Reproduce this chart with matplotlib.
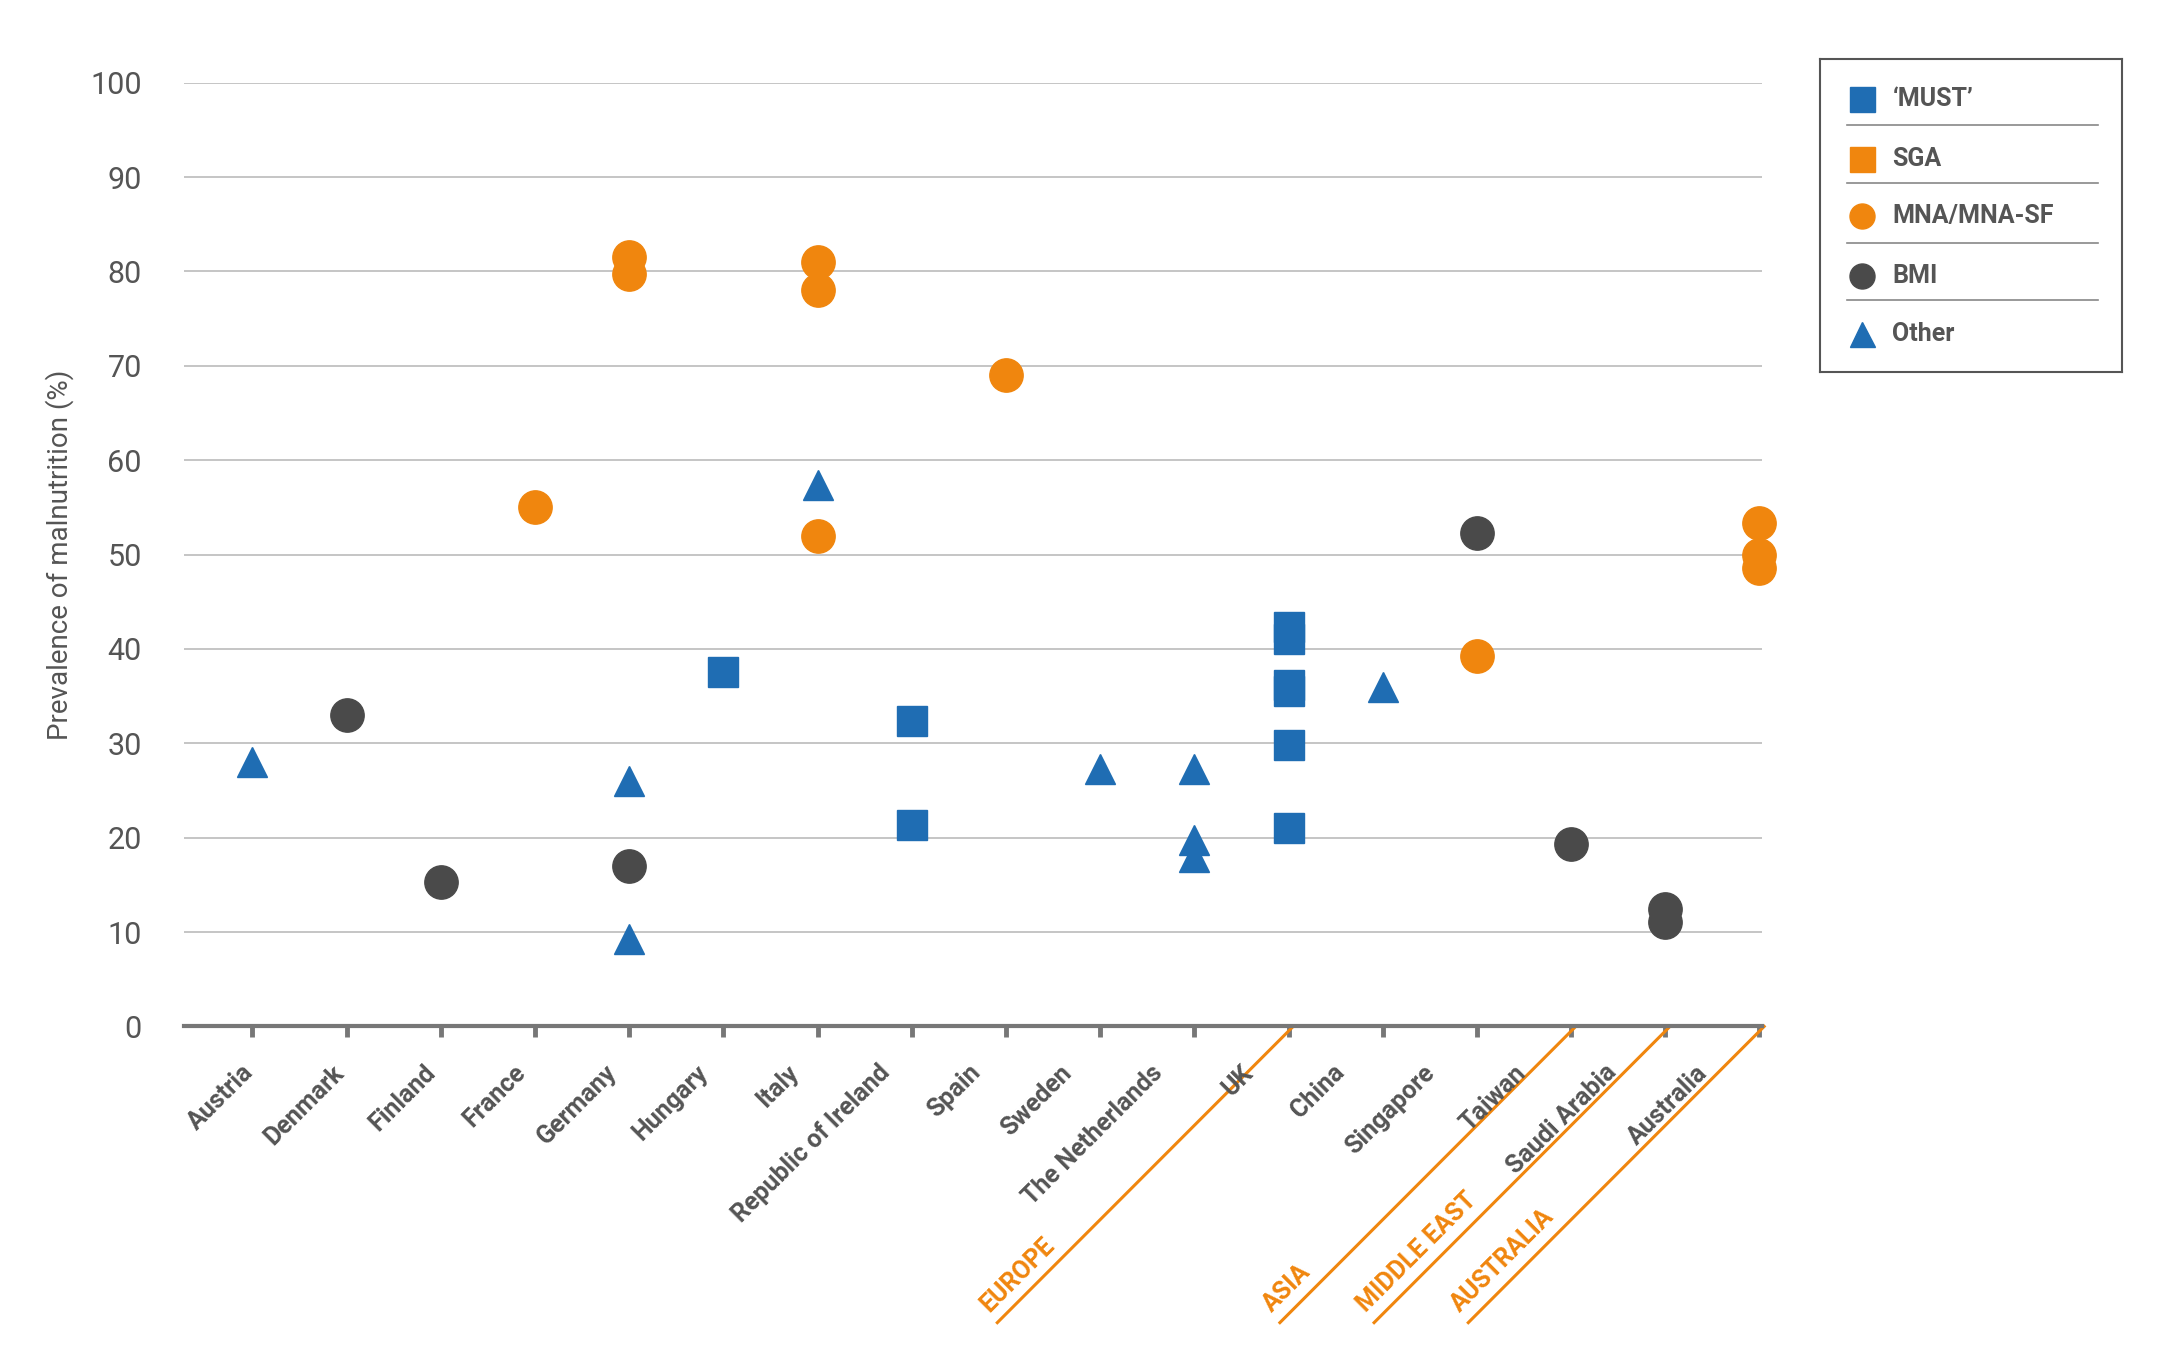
import matplotlib
matplotlib.use("Agg")
import matplotlib.pyplot as plt

countries = ["Austria","Denmark","Finland","France","Germany","Hungary","Italy",
             "Republic of Ireland","Spain","Sweden","The Netherlands","UK","China",
             "Singapore","Taiwan","Saudi Arabia","Australia"]
# (category index 1-based, value)
must_pts = [(6,37.5),(8,32.4),(8,21.3),(12,42.3),(12,41),(12,36.2),(12,35.5),(12,29.8),(12,21)]
sga_pts = []
mna_pts = [(4,55),(5,81.5),(5,79.7),(7,81),(7,78),(7,52),(9,69),(14,39.3),(17,53.3),(17,50),(17,48.6)]
bmi_pts = [(2,33),(3,15.3),(5,17),(14,52.3),(15,19.3),(16,12.4),(16,11.1)]
other_pts = [(1,28),(5,26),(5,9.3),(7,57.4),(10,27.3),(11,27.3),(11,19.7),(11,18),(13,36)]
regions = ["EUROPE","ASIA","MIDDLE EAST","AUSTRALIA"]
region_ticks = [12,15,16,17]

BLUE="#1f6db3"; ORANGE="#f0860e"; GRAY="#4a4a4a"; TXT="#555555"
FONT="Roboto"

fig = plt.figure(figsize=(21.65,13.68), dpi=100)
ax = fig.add_axes([0.0848,0.2497,0.814-0.0848,0.9396-0.2497])
ax.set_xlim(0.27,17.03); ax.set_ylim(0,100)
for s in ["top","right","left"]: ax.spines[s].set_visible(False)
ax.spines["bottom"].set_color("#777777"); ax.spines["bottom"].set_linewidth(3)
ax.set_yticks(range(0,101,10))
ax.yaxis.grid(True,color="#bbbbbb",lw=1.2); ax.set_axisbelow(True)
ax.tick_params(axis="y",length=0,labelsize=22,labelcolor=TXT,pad=30)
for t in ax.get_yticklabels(): t.set_fontfamily(FONT)
ax.set_xticks(range(1,18)); ax.set_xticklabels([])
ax.tick_params(axis="x",direction="out",length=8,width=3.5,color="#777777")
ax.set_ylabel("Prevalence of malnutrition (%)",fontsize=20,color=TXT,family=FONT,labelpad=12)

def plot(pts,m,c,ms):
    if pts:
        ax.plot([p[0] for p in pts],[p[1] for p in pts],ls="none",marker=m,color=c,ms=ms,clip_on=False,zorder=3)
plot(must_pts,"s",BLUE,22); plot(sga_pts,"s",ORANGE,22)
plot(mna_pts,"o",ORANGE,24); plot(bmi_pts,"o",GRAY,24); plot(other_pts,"^",BLUE,22)

for i,c in enumerate(countries,1):
    ax.text(i-0.12-0.035*(i-1),-3.6,c,rotation=45,ha="right",va="top",rotation_mode="anchor",
            fontsize=18,fontweight="bold",color=TXT,family=FONT,clip_on=False)
for r,t in zip(regions,region_ticks):
    dx=215/68.44; dy=215/6.85
    ax.plot([t+0.05,t+0.05-dx],[0,-dy],color=ORANGE,lw=2.2,clip_on=False)
    ax.text(t+0.05-dx-0.05,-dy+0.6,r,rotation=45,ha="left",va="bottom",rotation_mode="anchor",
            fontsize=18,fontweight="bold",color=ORANGE,family=FONT,clip_on=False)

lg = fig.add_axes([0.8406,0.728,0.1397,0.2286])
lg.set_xlim(0,1); lg.set_ylim(0,1); lg.set_xticks([]); lg.set_yticks([])
for s in lg.spines.values(): s.set_color("#555555"); s.set_linewidth(1.5)
items=[("\u2018MUST\u2019","s",BLUE),("SGA","s",ORANGE),("MNA/MNA-SF","o",ORANGE),("BMI","o",GRAY),("Other","^",BLUE)]
ys=[72,115,157,200,242]
for (lab,m,c),y in zip(items,ys):
    yy=(270-y)/227
    lg.plot([0.14],[yy],marker=m,color=c,ms=18,ls="none")
    lg.text(0.24,yy,lab,va="center",ha="left",fontsize=18,fontweight="bold",color=TXT,family=FONT)
for y in [91,133,176,218]:
    yy=(270-y)/227
    lg.plot([0.09,0.92],[yy,yy],color="#888888",lw=1.2)
fig.savefig("out.png",dpi=100,facecolor="white")
